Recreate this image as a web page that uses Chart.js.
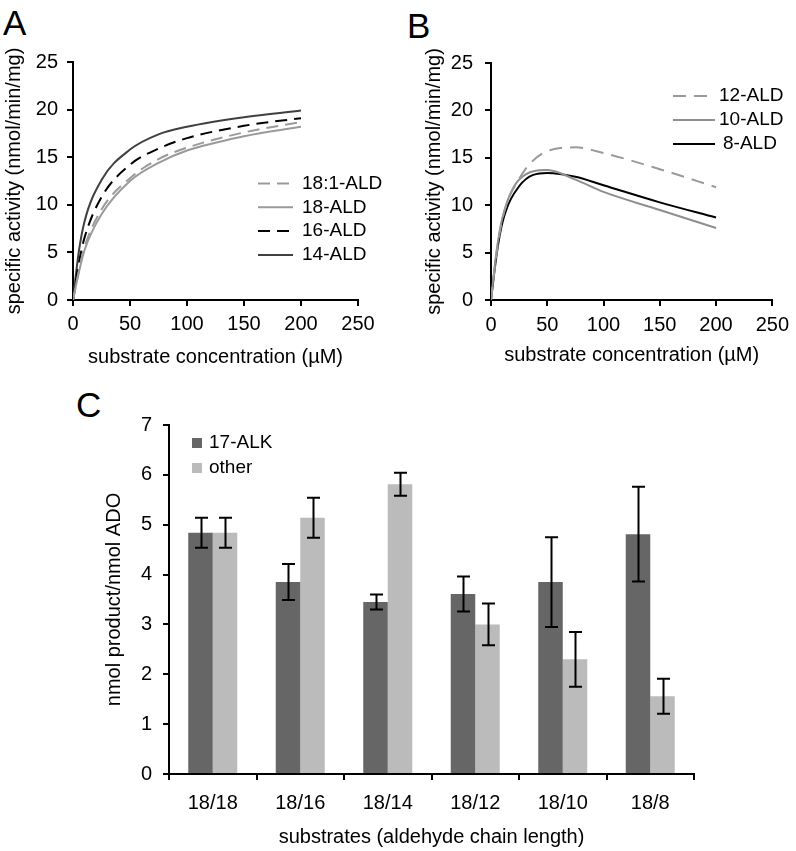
<!DOCTYPE html>
<html>
<head>
<meta charset="utf-8">
<script src="https://cdn.jsdelivr.net/npm/chart.js@4.4.1/dist/chart.umd.min.js"></script>
<style>
body { margin: 0; background: #fff; width: 796px; height: 851px; position: relative; overflow: hidden; font-family: "Liberation Sans", Arial, sans-serif; }
canvas { position: absolute; }
.tag { position: absolute; font-size: 35px; line-height: 35px; color: #000; }
</style>
</head>
<body>
<div class="tag" style="left:3px;top:5px">A</div>
<div class="tag" style="left:407px;top:8px">B</div>
<div class="tag" style="left:76px;top:387px">C</div>
<canvas id="chartA" width="398" height="380" style="left:0;top:0"></canvas>
<canvas id="chartB" width="398" height="380" style="left:398px;top:0"></canvas>
<canvas id="chartC" width="796" height="471" style="left:0;top:380px"></canvas>
<script>
// panel A - substrate concentration (uM) vs specific activity
var concA = [0, 5, 10, 25, 50, 75, 100, 150, 200];
var ald18_1 = [0, 3.0, 5.5, 9.5, 12.8, 14.8, 16.0, 17.6, 18.7];
var ald18 = [0, 2.8, 5.2, 9.0, 12.5, 14.4, 15.7, 17.2, 18.2];
var ald16 = [0, 3.8, 6.5, 10.8, 14.2, 15.9, 17.0, 18.3, 19.1];
var ald14 = [0, 5.0, 8.2, 12.6, 15.8, 17.4, 18.2, 19.2, 19.9];

// panel B
var concB = [0, 5, 10, 25, 50, 75, 100, 150, 200];
var ald12 = [0, 5.0, 8.5, 12.8, 15.7, 16.1, 15.5, 13.8, 11.9];
var ald10 = [0, 5.2, 8.6, 12.7, 13.7, 12.7, 11.4, 9.5, 7.6];
var ald8 = [0, 4.8, 8.1, 12.0, 13.4, 13.0, 12.1, 10.3, 8.7];

// panel C - nmol product / nmol ADO
var substrates = ["18/18", "18/16", "18/14", "18/12", "18/10", "18/8"];
var alk17 = [4.84, 3.85, 3.45, 3.61, 3.85, 4.81];
var alk17Err = [0.30, 0.36, 0.15, 0.35, 0.90, 0.95];
var other = [4.84, 5.14, 5.81, 3.00, 2.30, 1.56];
var otherErr = [0.30, 0.40, 0.23, 0.42, 0.55, 0.35];

Chart.defaults.font.family = '"Liberation Sans", Arial, sans-serif';
Chart.defaults.font.size = 20;
Chart.defaults.color = "#000";
Chart.defaults.animation = false;

function pts(xs, ys) {
    return xs.map(function (x, i) { return {x: x, y: ys[i]}; });
}

// legend drawn inside the plot, the way the original has it
var lineLegend = {
    id: "lineLegend",
    afterDraw: function (chart, args, opts) {
        var ctx = chart.ctx;
        ctx.save();
        ctx.font = opts.font;
        ctx.textBaseline = "middle";
        ctx.fillStyle = "#000";
        chart.data.datasets.forEach(function (ds, i) {
            var y = opts.top + i * opts.rowHeight;
            ctx.strokeStyle = ds.borderColor;
            ctx.lineWidth = ds.borderWidth;
            ctx.setLineDash(ds.borderDash || []);
            ctx.beginPath();
            ctx.moveTo(opts.left, y);
            ctx.lineTo(opts.left + opts.lineLength, y);
            ctx.stroke();
            ctx.setLineDash([]);
            ctx.fillText(ds.label, opts.textLeft + (opts.indent ? opts.indent[i] : 0), y);
        });
        ctx.restore();
    }
};

var boxLegend = {
    id: "boxLegend",
    afterDraw: function (chart, args, opts) {
        var ctx = chart.ctx;
        ctx.save();
        ctx.font = opts.font;
        ctx.textBaseline = "middle";
        chart.data.datasets.forEach(function (ds, i) {
            var y = opts.top + i * opts.rowHeight;
            ctx.fillStyle = ds.backgroundColor;
            ctx.fillRect(opts.left, y - opts.box / 2, opts.box, opts.box);
            ctx.fillStyle = "#000";
            ctx.fillText(ds.label, opts.textLeft, y);
        });
        ctx.restore();
    }
};

var errorBars = {
    id: "errorBars",
    afterDatasetsDraw: function (chart, args, opts) {
        var ctx = chart.ctx, yScale = chart.scales.y;
        ctx.save();
        ctx.strokeStyle = "#000";
        ctx.lineWidth = 2;
        chart.data.datasets.forEach(function (ds, i) {
            var errs = opts.errors[i];
            chart.getDatasetMeta(i).data.forEach(function (bar, j) {
                var top = yScale.getPixelForValue(ds.data[j] + errs[j]);
                var bot = yScale.getPixelForValue(ds.data[j] - errs[j]);
                var x = Math.round(bar.x) + 0.5, c = opts.cap;
                ctx.beginPath();
                ctx.moveTo(x, top); ctx.lineTo(x, bot);
                ctx.moveTo(x - c, top); ctx.lineTo(x + c, top);
                ctx.moveTo(x - c, bot); ctx.lineTo(x + c, bot);
                ctx.stroke();
            });
        });
        ctx.restore();
    }
};

function axisGrid() {
    return {drawOnChartArea: false, drawTicks: true, tickLength: 6, color: "#000", lineWidth: 2};
}

function curveOptions(cfg) {
    return {
        responsive: false,
        layout: {padding: {top: cfg.top, right: cfg.right, left: 0, bottom: 0}},
        elements: {point: {radius: 0}, line: {cubicInterpolationMode: "monotone"}},
        plugins: {
            legend: {display: false},
            tooltip: {enabled: false},
            lineLegend: cfg.legend
        },
        scales: {
            x: {
                type: "linear", min: 0, max: 250,
                ticks: {stepSize: 50, padding: cfg.xPad},
                grid: axisGrid(),
                border: {color: "#000", width: 2},
                title: {display: true, text: "substrate concentration (µM)", padding: {top: 0, bottom: cfg.xTitlePad}},
                afterFit: function (s) { s.height = cfg.xHeight; }
            },
            y: {
                min: 0, max: 25,
                ticks: {stepSize: 5, padding: cfg.yPad},
                grid: axisGrid(),
                border: {color: "#000", width: 2},
                title: {display: true, text: "specific activity (nmol/min/mg)", padding: {top: cfg.yTitlePad, bottom: 0}},
                afterFit: function (s) { s.width = cfg.yWidth; }
            }
        }
    };
}

new Chart(document.getElementById("chartA").getContext("2d"), {
    type: "line",
    data: {
        datasets: [
            {label: "18:1-ALD", data: pts(concA, ald18_1), borderColor: "#9a9a9a", borderWidth: 2, borderDash: [12, 7]},
            {label: "18-ALD", data: pts(concA, ald18), borderColor: "#9a9a9a", borderWidth: 2},
            {label: "16-ALD", data: pts(concA, ald16), borderColor: "#000000", borderWidth: 2, borderDash: [12, 7]},
            {label: "14-ALD", data: pts(concA, ald14), borderColor: "#404040", borderWidth: 2}
        ]
    },
    options: curveOptions({
        top: 62, right: 40, yWidth: 73, xHeight: 80, xPad: 6, yPad: 9, xTitlePad: 11, yTitlePad: 2,
        legend: {font: '19px "Liberation Sans", Arial, sans-serif', left: 258, lineLength: 35, textLeft: 302, top: 183.5, rowHeight: 23.8}
    }),
    plugins: [lineLegend]
});

new Chart(document.getElementById("chartB").getContext("2d"), {
    type: "line",
    data: {
        datasets: [
            {label: "12-ALD", data: pts(concB, ald12), borderColor: "#9a9a9a", borderWidth: 2, borderDash: [13, 8]},
            {label: "10-ALD", data: pts(concB, ald10), borderColor: "#8e8e8e", borderWidth: 2},
            {label: "8-ALD", data: pts(concB, ald8), borderColor: "#000000", borderWidth: 2}
        ]
    },
    options: curveOptions({
        top: 63, right: 22, yWidth: 93, xHeight: 80, xPad: 7, yPad: 12, xTitlePad: 13, yTitlePad: 24,
        legend: {font: '19px "Liberation Sans", Arial, sans-serif', left: 275, lineLength: 42, textLeft: 321, top: 96, rowHeight: 24, indent: [0, 0, 4]}
    }),
    plugins: [lineLegend]
});

new Chart(document.getElementById("chartC").getContext("2d"), {
    type: "bar",
    data: {
        labels: substrates,
        datasets: [
            {label: "17-ALK", data: alk17, backgroundColor: "#666666"},
            {label: "other", data: other, backgroundColor: "#bbbbbb"}
        ]
    },
    options: {
        responsive: false,
        layout: {padding: {top: 45, right: 102, left: 0, bottom: 0}},
        datasets: {bar: {barPercentage: 1, categoryPercentage: 0.56}},
        plugins: {
            legend: {display: false},
            tooltip: {enabled: false},
            boxLegend: {font: '19px "Liberation Sans", Arial, sans-serif', left: 192, box: 10, textLeft: 209, top: 63, rowHeight: 25},
            errorBars: {errors: [alk17Err, otherErr], cap: 6.5}
        },
        scales: {
            x: {
                ticks: {padding: 11},
                grid: axisGrid(),
                border: {color: "#000", width: 2},
                title: {display: true, text: "substrates (aldehyde chain length)", padding: {top: 0, bottom: 2}},
                afterFit: function (s) { s.height = 77; }
            },
            y: {
                min: 0, max: 7,
                ticks: {stepSize: 1, padding: 11},
                grid: axisGrid(),
                border: {color: "#000", width: 2},
                title: {display: true, text: "nmol product/nmol ADO", padding: {top: 102, bottom: 0}},
                afterFit: function (s) { s.width = 169; }
            }
        }
    },
    plugins: [boxLegend, errorBars]
});
</script>
</body>
</html>
